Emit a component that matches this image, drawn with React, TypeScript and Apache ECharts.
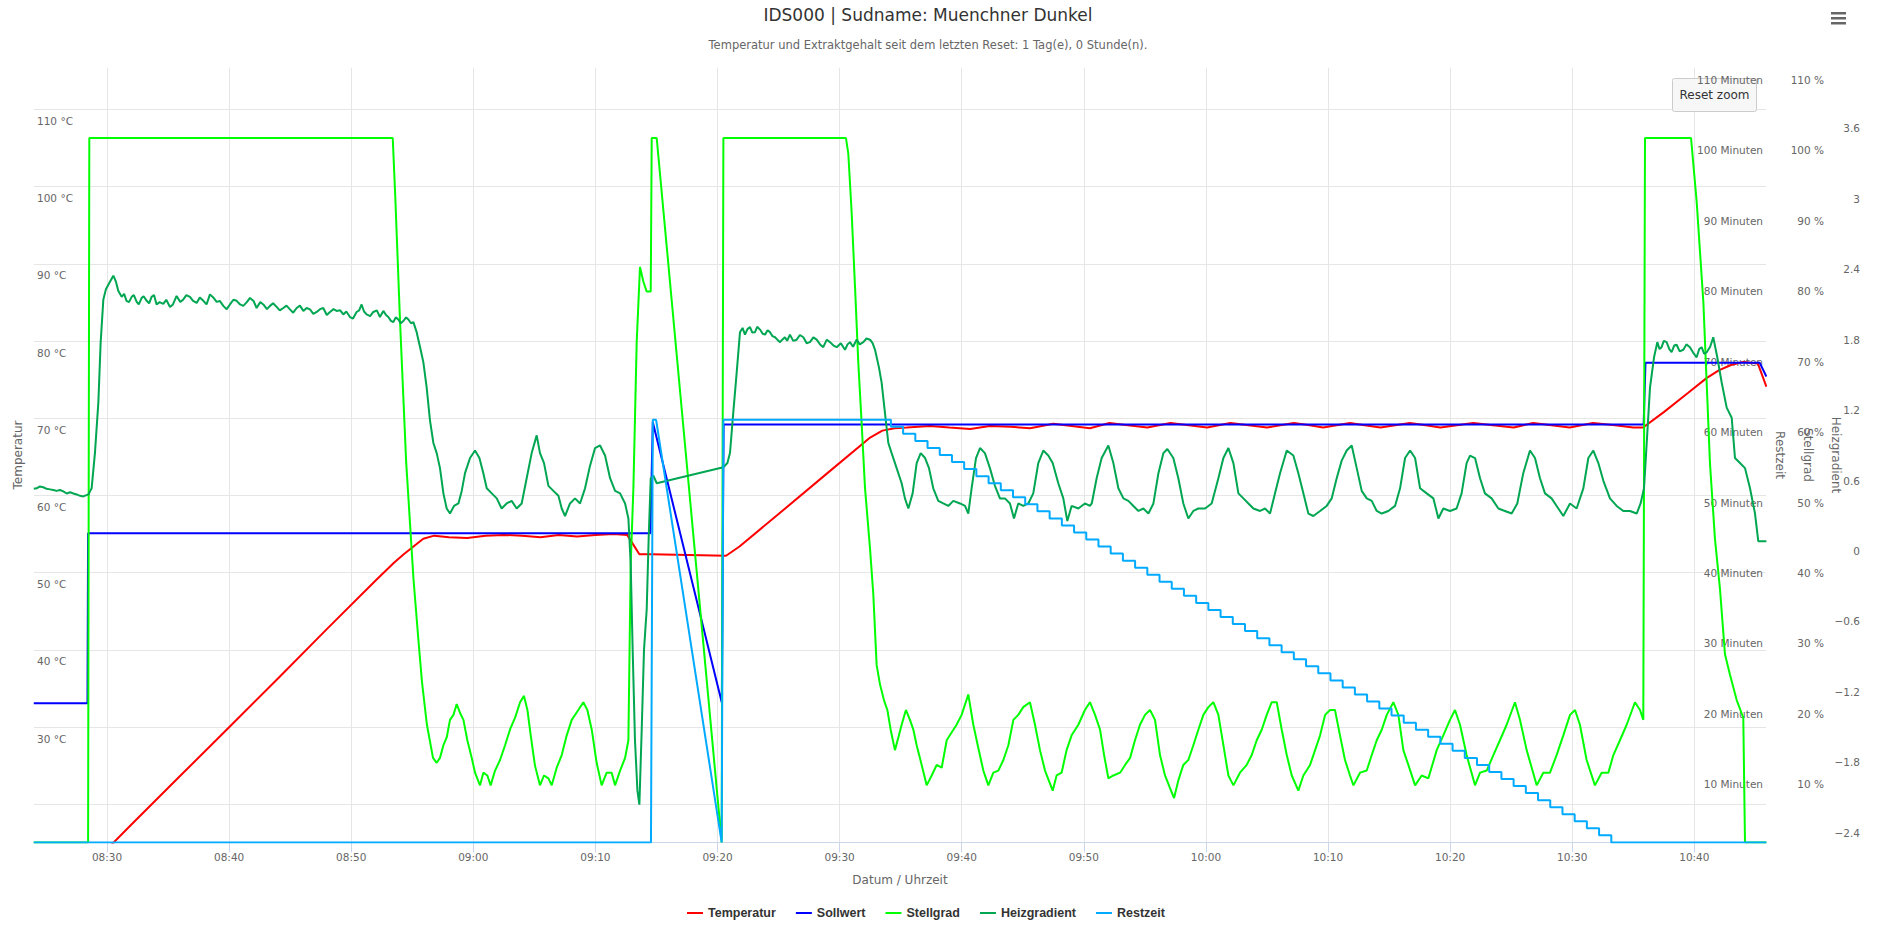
import React, { useEffect, useRef } from "react";
import * as echarts from "echarts";

// time values are minutes since midnight
const X_TICKS = [510, 520, 530, 540, 550, 560, 570, 580, 590, 600, 610, 620, 630, 640];
const TEMP_GRID = [20, 30, 40, 50, 60, 70, 80, 90, 100, 110];
const TEMP_LABELS = [30, 40, 50, 60, 70, 80, 90, 100, 110];
const MIN_LABELS = [10, 20, 30, 40, 50, 60, 70, 80, 90, 100];
const MIN_TOP_LABEL = 110;
const PCT_LABELS = [10, 20, 30, 40, 50, 60, 70, 80, 90, 100, 110];
const HEIZ_LABELS = [-2.4, -1.8, -1.2, -0.6, 0, 0.6, 1.2, 1.8, 2.4, 3.0, 3.6];

const TITLE = "IDS000 | Sudname: Muenchner Dunkel";
const SUBTITLE = "Temperatur und Extraktgehalt seit dem letzten Reset: 1 Tag(e), 0 Stunde(n).";

const temperatur: [number, number][] = [
  [509.5, 13.4], [512.0, 17.4], [516.0, 23.7], [520.0, 30.0], [524.0, 36.3], [528.0, 42.7],
  [532.0, 49.0], [533.5, 51.3], [534.3, 52.4], [535.1, 53.4], [535.9, 54.4], [536.8, 54.8],
  [538.0, 54.6], [539.5, 54.5], [541.0, 54.8], [542.5, 54.9], [544.0, 54.8], [545.5, 54.6],
  [547.0, 54.9], [548.5, 54.7], [550.0, 54.9], [551.5, 55.0], [552.6, 54.9], [553.0, 53.9],
  [553.6, 52.4], [554.6, 52.4], [560.7, 52.2], [561.8, 53.4], [565.0, 57.6], [569.0, 62.9],
  [572.5, 67.5], [573.5, 68.4], [574.5, 68.7], [575.5, 68.8], [577.4, 69.0], [579.0, 68.8],
  [580.7, 68.6], [582.3, 69.0], [584.0, 68.9], [585.6, 68.7], [587.5, 69.3], [589.0, 69.0],
  [590.5, 68.7], [592.1, 69.4], [593.6, 69.1], [595.2, 68.8], [597.1, 69.4], [598.6, 69.1],
  [600.1, 68.8], [602.0, 69.4], [603.5, 69.1], [605.0, 68.8], [607.2, 69.4], [608.5, 69.1],
  [609.6, 68.8], [611.8, 69.4], [613.0, 69.1], [614.3, 68.8], [616.7, 69.4], [618.0, 69.1],
  [619.2, 68.8], [621.9, 69.4], [623.5, 69.1], [625.2, 68.8], [626.8, 69.4], [628.3, 69.1],
  [629.8, 68.8], [631.7, 69.4], [633.5, 69.1], [635.0, 68.8], [635.8, 68.8], [637.5, 70.8],
  [639.5, 73.3], [641.0, 75.2], [642.0, 76.2], [643.0, 76.9], [644.0, 77.3], [645.2, 77.1],
  [645.9, 74.1],
];

const sollwert: [number, number][] = [
  [504.0, 33.1], [508.4, 33.1], [508.45, 55.1], [554.5, 55.1], [554.7, 69.5], [560.35, 33.2],
  [560.5, 69.2], [635.85, 69.2], [636.0, 77.2], [645.35, 77.2], [645.9, 75.4],
];

const stellgrad: [number, number][] = [
  [504.0, 0], [508.45, 0], [508.55, 100], [533.4, 100], [533.6, 92], [534.0, 73.9], [534.5, 54],
  [535.1, 37.4], [535.5, 28.8], [535.8, 22.7], [536.2, 16.7], [536.7, 12.0], [537.0, 11.3],
  [537.27, 12.0], [537.55, 13.8], [537.82, 14.9], [538.09, 17.4], [538.37, 18.1], [538.64, 19.65],
  [538.91, 18.4], [539.19, 17.4], [539.51, 14.5], [539.87, 12.0], [540.14, 9.9], [540.55, 8.1],
  [540.82, 9.9], [541.15, 9.5], [541.42, 8.1], [541.78, 10.2], [542.19, 11.7], [542.6, 13.8],
  [543.0, 16.0], [543.42, 17.7], [543.83, 19.9], [544.15, 20.8], [544.43, 18.8], [544.7, 15.2],
  [545.05, 10.9], [545.46, 8.1], [545.79, 9.5], [546.15, 9.1], [546.42, 8.1], [546.83, 10.6],
  [547.24, 12.4], [547.65, 15.2], [548.06, 17.4], [548.6, 18.8], [549.01, 19.9], [549.34, 18.8],
  [549.7, 16.0], [550.1, 11.3], [550.51, 8.1], [550.92, 9.9], [551.33, 9.9], [551.61, 8.1],
  [552.02, 10.2], [552.43, 12.0], [552.7, 14.5], [552.78, 25.2], [552.89, 39.5], [553.11, 50.3],
  [553.38, 71.0], [553.65, 81.7], [553.93, 79.6], [554.2, 78.2], [554.53, 78.2], [554.61, 100],
  [555.02, 100], [560.34, 0], [560.48, 100], [570.52, 100], [570.71, 97.8], [570.98, 89.6],
  [571.26, 78.9], [571.53, 68.1], [571.8, 59.6], [572.08, 50.3], [572.49, 41.7], [572.76, 35.2],
  [573.03, 25.2], [573.31, 22.4], [573.63, 20.2], [573.91, 18.8], [574.18, 16.0], [574.53, 13.1],
  [574.81, 14.9], [575.08, 16.7], [575.43, 18.8], [575.76, 17.4], [576.04, 16.0], [576.31, 13.8],
  [576.72, 11.0], [577.13, 8.1], [577.54, 9.5], [577.95, 11.0], [578.36, 10.6], [578.77, 14.5],
  [579.17, 15.6], [579.58, 16.7], [579.99, 18.1], [580.54, 21.0], [580.95, 16.7], [581.36, 13.4],
  [581.77, 10.2], [582.18, 8.1], [582.59, 9.9], [583.0, 10.2], [583.41, 11.7], [583.82, 13.8],
  [584.23, 17.4], [584.63, 18.1], [585.04, 19.2], [585.59, 19.9], [586.0, 16.7], [586.41, 13.1],
  [586.82, 10.2], [587.45, 7.35], [587.77, 9.5], [588.18, 9.9], [588.59, 13.1], [589.0, 15.2],
  [589.55, 16.7], [590.09, 18.8], [590.5, 19.9], [590.92, 18.1], [591.33, 16.0], [591.66, 12.4],
  [592.01, 9.1], [592.42, 9.5], [592.97, 9.9], [593.38, 11.0], [593.79, 12.0], [594.19, 14.5],
  [594.6, 16.7], [595.01, 18.1], [595.42, 18.8], [595.83, 17.4], [596.24, 12.4], [596.65, 9.5],
  [597.06, 7.7], [597.39, 6.3], [597.74, 8.8], [598.15, 11.0], [598.56, 11.7], [598.97, 13.8],
  [599.38, 16.0], [599.79, 18.1], [600.2, 19.2], [600.61, 19.9], [601.02, 18.1], [601.43, 13.8],
  [601.84, 9.5], [602.25, 8.1], [602.79, 9.9], [603.34, 11.0], [603.75, 12.4], [604.16, 14.5],
  [604.57, 16.0], [604.98, 18.1], [605.39, 19.9], [605.8, 19.9], [606.21, 16.0], [606.62, 12.4],
  [607.03, 9.5], [607.57, 7.35], [607.98, 9.5], [608.53, 11.0], [608.94, 13.1], [609.35, 15.2],
  [609.76, 18.1], [610.17, 18.8], [610.57, 18.8], [610.98, 15.2], [611.39, 11.7], [611.8, 9.5],
  [612.08, 8.1], [612.62, 9.9], [613.17, 10.2], [613.58, 12.4], [613.99, 14.5], [614.4, 16.0],
  [614.81, 18.1], [615.35, 19.9], [615.76, 18.1], [616.17, 13.1], [616.58, 11.0], [617.13, 8.1],
  [617.67, 9.5], [618.22, 9.1], [618.9, 13.1], [619.44, 15.2], [619.99, 17.4], [620.4, 18.8],
  [620.81, 16.7], [621.35, 12.4], [622.04, 8.1], [622.45, 9.9], [623.0, 10.2], [623.54, 12.4],
  [624.08, 14.5], [624.63, 16.7], [625.31, 19.9], [625.72, 17.4], [626.27, 13.1], [627.09, 8.1],
  [627.63, 9.9], [628.18, 9.9], [628.72, 12.4], [629.27, 15.2], [629.82, 18.1], [630.23, 18.8],
  [630.63, 16.7], [631.18, 11.7], [631.86, 8.1], [632.41, 9.9], [632.96, 9.9], [633.37, 12.4],
  [633.91, 14.5], [634.46, 16.7], [635.14, 19.9], [635.55, 18.8], [635.82, 17.4], [635.96, 100],
  [639.73, 100], [640.19, 91.0], [640.74, 76.7], [641.28, 53.85], [641.69, 43.1], [642.1, 36.0],
  [642.51, 26.7], [642.92, 23.8], [643.47, 20.2], [644.01, 17.7], [644.15, 0], [645.9, 0],
];

const heizgradient: [number, number][] = [
  [504.0, 0.53], [504.24, 0.534], [504.5, 0.55], [504.78, 0.543], [505.05, 0.53], [505.33, 0.525],
  [505.6, 0.52], [505.87, 0.512], [506.15, 0.52], [506.42, 0.508], [506.7, 0.49], [506.97, 0.5],
  [507.25, 0.49], [507.51, 0.482], [507.8, 0.47], [508.06, 0.465], [508.47, 0.482], [508.74, 0.534],
  [509.01, 0.834], [509.29, 1.264], [509.48, 1.779], [509.7, 2.143], [509.91, 2.229], [510.24, 2.294],
  [510.52, 2.345], [510.73, 2.294], [510.92, 2.216], [511.2, 2.165], [511.4, 2.19], [511.6, 2.131],
  [511.8, 2.12], [512.02, 2.165], [512.2, 2.18], [512.43, 2.122], [512.6, 2.1], [512.84, 2.156],
  [513.0, 2.17], [513.25, 2.131], [513.45, 2.11], [513.65, 2.165], [513.85, 2.18], [514.06, 2.1],
  [514.3, 2.12], [514.61, 2.105], [514.85, 2.14], [515.16, 2.079], [515.4, 2.1], [515.7, 2.173],
  [516.0, 2.12], [516.25, 2.143], [516.5, 2.18], [516.79, 2.165], [517.05, 2.13], [517.34, 2.113],
  [517.6, 2.16], [517.89, 2.131], [518.15, 2.1], [518.43, 2.186], [518.7, 2.16], [518.98, 2.122],
  [519.25, 2.13], [519.52, 2.088], [519.8, 2.06], [520.07, 2.1], [520.35, 2.14], [520.62, 2.131],
  [520.9, 2.1], [521.16, 2.088], [521.45, 2.12], [521.71, 2.156], [522.0, 2.13], [522.25, 2.07],
  [522.55, 2.12], [522.8, 2.1], [523.1, 2.06], [523.35, 2.088], [523.6, 2.11], [523.89, 2.079],
  [524.15, 2.05], [524.44, 2.07], [524.7, 2.09], [524.98, 2.058], [525.25, 2.03], [525.53, 2.07],
  [525.8, 2.09], [526.08, 2.045], [526.35, 2.07], [526.62, 2.058], [526.9, 2.02], [527.17, 2.036],
  [527.45, 2.06], [527.71, 2.07], [528.0, 2.01], [528.26, 2.036], [528.55, 2.06], [528.8, 2.045],
  [529.1, 2.05], [529.35, 2.015], [529.6, 2.04], [529.9, 1.993], [530.15, 1.98], [530.44, 2.036],
  [530.65, 2.05], [530.85, 2.1], [531.05, 2.04], [531.26, 2.015], [531.55, 2.0], [531.81, 2.036],
  [532.1, 2.05], [532.35, 1.993], [532.63, 2.045], [532.85, 2.01], [533.04, 1.993], [533.25, 1.96],
  [533.45, 1.95], [533.65, 1.99], [533.86, 1.972], [534.05, 1.94], [534.27, 1.959], [534.5, 1.99],
  [534.68, 1.972], [534.9, 1.94], [535.09, 1.95], [535.36, 1.864], [535.64, 1.736], [535.91, 1.607],
  [536.18, 1.392], [536.45, 1.113], [536.73, 0.92], [537.0, 0.834], [537.27, 0.706], [537.55, 0.491],
  [537.82, 0.362], [538.09, 0.319], [538.42, 0.384], [538.78, 0.405], [539.05, 0.512], [539.32, 0.663],
  [539.73, 0.792], [540.14, 0.856], [540.5, 0.792], [540.82, 0.663], [541.1, 0.534], [541.51, 0.491],
  [541.92, 0.448], [542.32, 0.362], [542.73, 0.405], [543.14, 0.427], [543.55, 0.362], [543.96, 0.405],
  [544.37, 0.62], [544.78, 0.834], [545.19, 0.985], [545.46, 0.834], [545.79, 0.749], [546.15, 0.555],
  [546.56, 0.512], [546.97, 0.47], [547.24, 0.362], [547.51, 0.298], [547.92, 0.405], [548.33, 0.448],
  [548.74, 0.405], [549.15, 0.534], [549.56, 0.727], [549.97, 0.877], [550.38, 0.899], [550.79, 0.813],
  [551.2, 0.62], [551.61, 0.512], [552.02, 0.491], [552.43, 0.405], [552.7, 0.277], [552.89, -0.11],
  [553.05, -0.84], [553.24, -1.612], [553.44, -2.041], [553.6, -2.161], [553.79, -1.526], [553.98, -0.84],
  [554.2, -0.496], [554.36, 0.105], [554.53, 0.62], [554.75, 0.641], [555.02, 0.577], [560.48, 0.714],
  [560.81, 0.749], [561.02, 0.834], [561.29, 1.178], [561.57, 1.521], [561.84, 1.864], [562.05, 1.9],
  [562.25, 1.843], [562.45, 1.89], [562.66, 1.907], [562.85, 1.86], [563.07, 1.864], [563.25, 1.91],
  [563.48, 1.886], [563.7, 1.85], [563.89, 1.843], [564.1, 1.88], [564.3, 1.864], [564.5, 1.83],
  [564.71, 1.821], [564.9, 1.8], [565.12, 1.779], [565.3, 1.8], [565.52, 1.821], [565.7, 1.79],
  [565.93, 1.843], [566.2, 1.79], [566.48, 1.8], [566.75, 1.84], [567.03, 1.821], [567.3, 1.77],
  [567.57, 1.779], [567.85, 1.82], [568.12, 1.8], [568.4, 1.76], [568.66, 1.736], [568.95, 1.8],
  [569.21, 1.779], [569.5, 1.75], [569.76, 1.736], [570.1, 1.77], [570.44, 1.714], [570.65, 1.76],
  [570.85, 1.779], [571.1, 1.74], [571.39, 1.8], [571.65, 1.76], [571.94, 1.779], [572.2, 1.81],
  [572.49, 1.8], [572.7, 1.77], [572.9, 1.714], [573.22, 1.564], [573.44, 1.435], [573.71, 1.178],
  [573.99, 0.92], [574.26, 0.834], [574.67, 0.706], [575.08, 0.577], [575.35, 0.448], [575.63, 0.362],
  [575.98, 0.491], [576.31, 0.749], [576.64, 0.834], [577.0, 0.792], [577.32, 0.706], [577.67, 0.534],
  [578.08, 0.427], [578.49, 0.405], [578.9, 0.384], [579.31, 0.427], [579.86, 0.405], [580.27, 0.384],
  [580.54, 0.319], [580.81, 0.534], [581.17, 0.792], [581.5, 0.877], [581.9, 0.834], [582.31, 0.706],
  [582.72, 0.555], [583.13, 0.448], [583.54, 0.448], [583.95, 0.405], [584.28, 0.277], [584.63, 0.405],
  [585.04, 0.384], [585.45, 0.405], [585.86, 0.491], [586.27, 0.749], [586.68, 0.856], [587.09, 0.813],
  [587.45, 0.749], [587.91, 0.577], [588.32, 0.448], [588.65, 0.255], [589.0, 0.384], [589.55, 0.362],
  [590.09, 0.405], [590.5, 0.384], [590.65, 0.405], [591.05, 0.62], [591.46, 0.792], [592.01, 0.899],
  [592.42, 0.749], [592.83, 0.534], [593.24, 0.448], [593.65, 0.427], [594.06, 0.384], [594.47, 0.341],
  [594.88, 0.362], [595.29, 0.319], [595.7, 0.405], [596.11, 0.663], [596.52, 0.834], [596.84, 0.869],
  [597.33, 0.792], [597.74, 0.62], [598.15, 0.405], [598.56, 0.277], [598.97, 0.341], [599.38, 0.362],
  [599.93, 0.362], [600.47, 0.405], [601.02, 0.62], [601.43, 0.792], [601.84, 0.877], [602.25, 0.749],
  [602.66, 0.491], [603.07, 0.448], [603.48, 0.405], [603.89, 0.362], [604.43, 0.341], [604.84, 0.362],
  [605.25, 0.319], [605.66, 0.491], [606.07, 0.663], [606.62, 0.856], [607.16, 0.813], [607.57, 0.663],
  [607.98, 0.491], [608.39, 0.319], [608.8, 0.298], [609.35, 0.341], [609.89, 0.384], [610.3, 0.448],
  [610.71, 0.62], [611.12, 0.77], [611.53, 0.856], [611.94, 0.899], [612.35, 0.706], [612.76, 0.512],
  [613.17, 0.448], [613.58, 0.427], [613.99, 0.341], [614.4, 0.319], [614.94, 0.341], [615.49, 0.384],
  [615.9, 0.534], [616.31, 0.792], [616.72, 0.856], [617.13, 0.792], [617.54, 0.534], [618.08, 0.491],
  [618.63, 0.448], [619.04, 0.277], [619.44, 0.362], [619.99, 0.341], [620.53, 0.362], [620.94, 0.491],
  [621.35, 0.749], [621.63, 0.813], [622.04, 0.792], [622.45, 0.62], [622.85, 0.491], [623.4, 0.448],
  [623.95, 0.362], [624.49, 0.341], [625.04, 0.319], [625.5, 0.405], [625.99, 0.663], [626.54, 0.856],
  [626.95, 0.792], [627.36, 0.62], [627.77, 0.491], [628.31, 0.448], [628.86, 0.362], [629.27, 0.298],
  [629.82, 0.405], [630.36, 0.362], [630.91, 0.534], [631.32, 0.792], [631.73, 0.856], [632.14, 0.749],
  [632.55, 0.598], [633.09, 0.448], [633.64, 0.384], [634.18, 0.341], [634.73, 0.341], [635.28, 0.319],
  [635.6, 0.405], [635.88, 0.534], [636.1, 0.92], [636.37, 1.392], [636.7, 1.65], [636.97, 1.779],
  [637.15, 1.72], [637.32, 1.736], [637.5, 1.79], [637.73, 1.779], [637.95, 1.72], [638.14, 1.693],
  [638.35, 1.75], [638.55, 1.757], [638.8, 1.7], [639.1, 1.714], [639.35, 1.76], [639.64, 1.736],
  [639.9, 1.69], [640.19, 1.65], [640.4, 1.72], [640.6, 1.736], [640.8, 1.68], [641.01, 1.693],
  [641.3, 1.74], [641.55, 1.821], [641.88, 1.65], [642.24, 1.435], [642.65, 1.221], [643.06, 1.135],
  [643.33, 0.792], [643.74, 0.749], [644.15, 0.706], [644.56, 0.534], [644.97, 0.319], [645.24, 0.083],
  [645.9, 0.083],
];

const restzeitBase: [number, number][] = [
  [504.0, 0], [554.55, 0], [554.7, 60], [554.97, 60], [560.34, 0], [560.48, 60],
];
const restzeitStepTimes = [
  574.2, 575.2, 576.2, 577.2, 578.2, 579.2, 580.2, 581.2, 582.2, 583.2, 584.2, 585.2, 586.2, 587.2,
  588.2, 589.2, 590.2, 591.2, 592.2, 593.2, 594.2, 595.2, 596.2, 597.2, 598.2, 599.2, 600.2, 601.2,
  602.2, 603.2, 604.2, 605.2, 606.2, 607.2, 608.2, 609.2, 610.2, 611.2, 612.2, 613.2, 614.2, 615.2,
  616.2, 617.2, 618.2, 619.2, 620.2, 621.2, 622.2, 623.2, 624.2, 625.2, 626.2, 627.2, 628.2, 629.2,
  630.2, 631.2, 632.2, 633.2,
];
const restzeitStepValues = [
  59, 58, 57, 56, 55, 54, 53, 52, 51, 50, 49, 48, 47, 46, 45, 44, 43, 42, 41, 40, 39, 38, 37, 36,
  35, 34, 33, 32, 31, 30, 29, 28, 27, 26, 25, 24, 23, 22, 21, 20, 19, 18, 17, 16, 15, 14, 13, 12,
  11, 10, 9, 8, 7, 6, 5, 4, 3, 2, 1, 0,
];
const restzeitEnd: [number, number] = [645.9, 0];

function buildRestzeit(): [number, number][] {
  const out: [number, number][] = restzeitBase.map((p) => [p[0], p[1]] as [number, number]);
  let prev = out[out.length - 1][1];
  restzeitStepTimes.forEach((t, i) => {
    out.push([t, prev]);
    out.push([t, restzeitStepValues[i]]);
    prev = restzeitStepValues[i];
  });
  out.push(restzeitEnd);
  return out;
}

const pad = (n: number) => (n < 10 ? "0" + n : "" + n);
const fmtTime = (v: number) => {
  const h = Math.floor(v / 60);
  const m = Math.round(v - h * 60);
  return pad(h) + ":" + pad(m);
};
const fmtHeiz = (v: number) => {
  const r = Math.round(v * 10) / 10;
  const s = String(Math.abs(r));
  return r < 0 ? "\u2212" + s : s;
};

const LABEL_FONT = "DejaVu Sans";

export default function App() {
  const ref = useRef<HTMLDivElement>(null);
  useEffect(() => {
    document.body.style.margin = "0";
    const chart = echarts.init(ref.current!, undefined, { renderer: "svg" });
    const labelBase = { color: "#666666", fontSize: 10.5, fontFamily: LABEL_FONT };
    const nameStyle = { color: "#666666", fontSize: 12, fontFamily: LABEL_FONT };
    const option: any = {
      animation: false,
      backgroundColor: "#ffffff",
      title: [
        {
          text: TITLE,
          left: 928,
          top: 4,
          textAlign: "center",
          padding: 0,
          textStyle: { fontFamily: LABEL_FONT, fontSize: 17, fontWeight: "normal", color: "#333333", lineHeight: 21 },
        },
        {
          text: SUBTITLE,
          left: 928,
          top: 38,
          textAlign: "center",
          padding: 0,
          textStyle: { fontFamily: LABEL_FONT, fontSize: 11.5, fontWeight: "normal", color: "#666666", lineHeight: 14 },
        },
      ],
      legend: {
        left: 687,
        top: 906,
        padding: 0,
        icon: "rect",
        itemWidth: 16,
        itemHeight: 2,
        itemGap: 20,
        textStyle: { fontFamily: "Liberation Sans", fontSize: 12.5, fontWeight: "bold", color: "#333333", lineHeight: 14 },
        data: ["Temperatur", "Sollwert", "Stellgrad", "Heizgradient", "Restzeit"],
      },
      grid: { left: 34, right: 125, top: 67.6, bottom: 83.6, containLabel: false },
      xAxis: {
        type: "value",
        min: 504.02,
        max: 645.87,
        name: "Datum / Uhrzeit",
        nameLocation: "middle",
        nameGap: 32,
        nameMoveOverlap: false,
        nameTextStyle: nameStyle,
        axisLine: { show: true, lineStyle: { color: "#ccd6eb", width: 1 } },
        axisTick: { show: true, length: 10, lineStyle: { color: "#ccd6eb" }, customValues: X_TICKS },
        axisLabel: { ...labelBase, margin: 9, customValues: X_TICKS, formatter: (v: number) => fmtTime(v) },
        splitLine: { show: true, lineStyle: { color: "#e6e6e6", width: 1 } },
      },
      yAxis: [
        {
          type: "value",
          position: "left",
          min: 15.08,
          max: 115.41,
          name: "Temperatur",
          nameLocation: "middle",
          nameGap: 10,
          nameMoveOverlap: false,
          nameTextStyle: nameStyle,
          axisLine: { show: false },
          axisTick: { show: false, customValues: TEMP_GRID },
          axisLabel: {
            ...labelBase,
            inside: true,
            margin: 3,
            customValues: TEMP_LABELS,
            verticalAlign: "top",
            lineHeight: 23,
            formatter: (v: number) => v + " \u00b0C",
          },
          splitLine: { show: true, lineStyle: { color: "#e6e6e6", width: 1 } },
        },
        {
          type: "value",
          position: "right",
          offset: 0,
          min: 0,
          max: 110,
          name: "Restzeit",
          nameLocation: "middle",
          nameRotate: -90,
          nameGap: 8,
          nameMoveOverlap: false,
          nameTextStyle: nameStyle,
          axisLine: { show: false },
          axisTick: { show: false },
          splitLine: { show: false },
          axisLabel: {
            ...labelBase,
            inside: true,
            margin: 3,
            align: "right",
            customValues: MIN_LABELS,
            verticalAlign: "top",
            lineHeight: 24.8,
            formatter: (v: number) => v + " Minuten",
          },
        },
        {
          type: "value",
          position: "right",
          offset: 0,
          min: 0,
          max: 110,
          name: "Stellgrad",
          nameLocation: "middle",
          nameRotate: -90,
          nameGap: 36,
          nameMoveOverlap: false,
          nameTextStyle: nameStyle,
          axisLine: { show: false },
          axisTick: { show: false },
          splitLine: { show: false },
          axisLabel: {
            ...labelBase,
            margin: 58,
            align: "right",
            customValues: PCT_LABELS,
            verticalAlign: "top",
            lineHeight: 24.8,
            formatter: (v: number) => v + " %",
          },
        },
        {
          type: "value",
          position: "right",
          offset: 0,
          min: -2.482,
          max: 4.1175,
          name: "Heizgradient",
          nameLocation: "middle",
          nameRotate: -90,
          nameGap: 64,
          nameMoveOverlap: false,
          nameTextStyle: nameStyle,
          axisLine: { show: false },
          axisTick: { show: false },
          splitLine: { show: false },
          axisLabel: {
            ...labelBase,
            margin: 94,
            align: "right",
            customValues: HEIZ_LABELS,
            formatter: (v: number) => fmtHeiz(v),
          },
        },
      ],
      series: [
        {
          name: "Temperatur", type: "line", yAxisIndex: 0, data: temperatur, showSymbol: false, symbol: "none",
          color: "#ff0000", lineStyle: { color: "#ff0000", width: 2 },
        },
        {
          name: "Sollwert", type: "line", yAxisIndex: 0, data: sollwert, showSymbol: false, symbol: "none",
          color: "#0000ff", lineStyle: { color: "#0000ff", width: 2 },
        },
        {
          name: "Stellgrad", type: "line", yAxisIndex: 2, data: stellgrad, showSymbol: false, symbol: "none",
          color: "#00ff00", lineStyle: { color: "#00ff00", width: 2 },
        },
        {
          name: "Heizgradient", type: "line", yAxisIndex: 3, data: heizgradient, showSymbol: false, symbol: "none",
          color: "#00a651", lineStyle: { color: "#00a651", width: 2 },
        },
        {
          name: "Restzeit", type: "line", yAxisIndex: 1, data: buildRestzeit(), showSymbol: false, symbol: "none",
          color: "#00aaff", lineStyle: { color: "#00aaff", width: 2 },
        },
      ],
      graphic: [
        { type: "rect", shape: { x: 1831, y: 12, width: 15, height: 2.5 }, style: { fill: "#666666" } },
        { type: "rect", shape: { x: 1831, y: 17, width: 15, height: 2.5 }, style: { fill: "#666666" } },
        { type: "rect", shape: { x: 1831, y: 22, width: 15, height: 2.5 }, style: { fill: "#666666" } },
        {
          type: "rect",
          z: 100,
          shape: { x: 1672.5, y: 78.5, width: 84, height: 33, r: 2 },
          style: { fill: "#f7f7f7", stroke: "#cccccc", lineWidth: 1 },
        },
        {
          type: "text",
          z: 101,
          x: 1714.5,
          y: 95,
          style: {
            text: "Reset zoom",
            fill: "#333333",
            font: "12px 'DejaVu Sans'",
            textAlign: "center",
            textVerticalAlign: "middle",
          },
        },
        {
          type: "text",
          z: 102,
          x: 1763,
          y: 80,
          style: {
            text: MIN_TOP_LABEL + " Minuten",
            fill: "#666666",
            font: "10.5px 'DejaVu Sans'",
            textAlign: "right",
            textVerticalAlign: "middle",
          },
        },
      ],
    };
    chart.setOption(option);
    return () => chart.dispose();
  }, []);
  return <div ref={ref} style={{ position: "absolute", left: 0, top: 0, width: 1891, height: 926 }} />;
}
